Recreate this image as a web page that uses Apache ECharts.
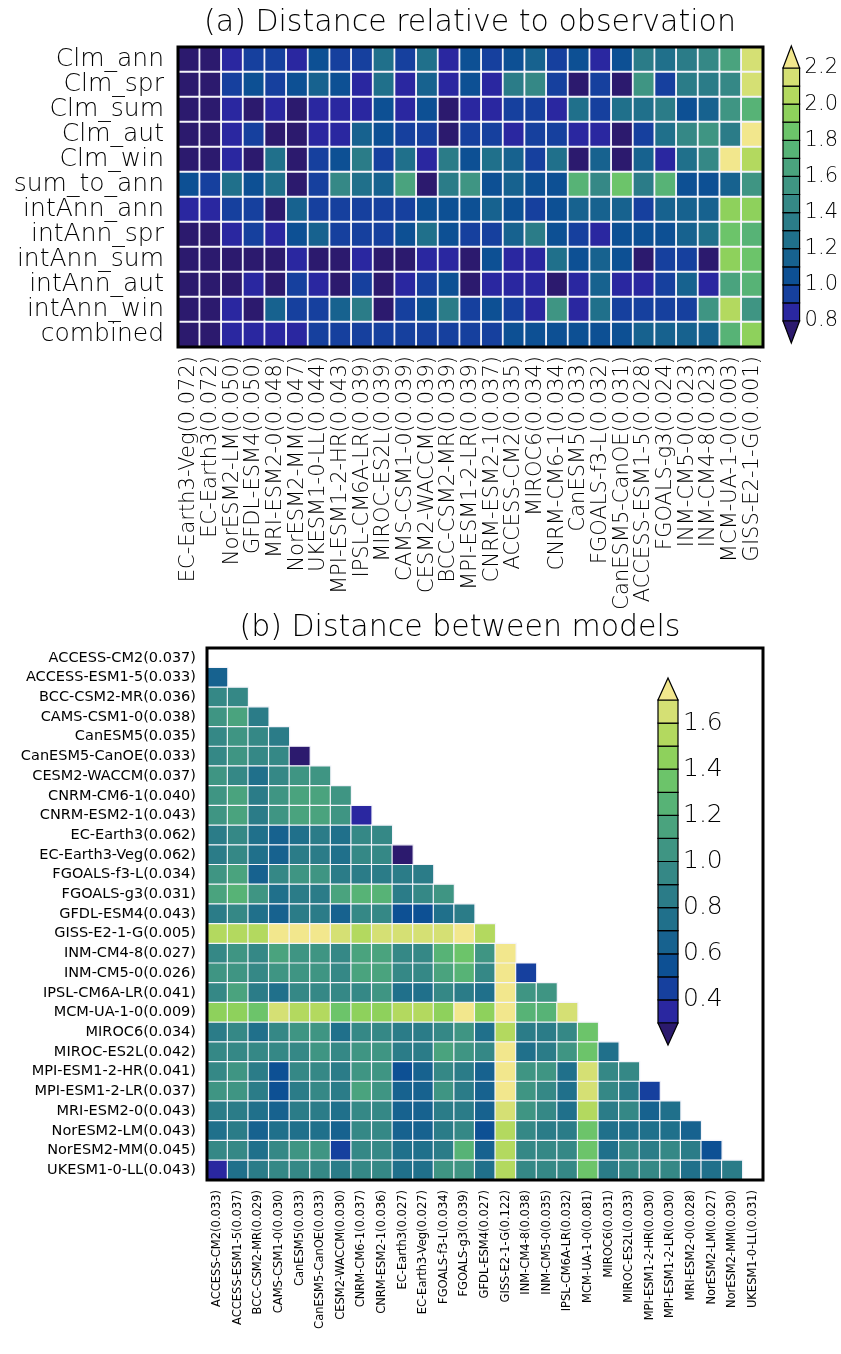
<!DOCTYPE html>
<html><head><meta charset="utf-8">
<script src="https://cdn.jsdelivr.net/npm/echarts@6/dist/echarts.min.js"></script>
<style>html,body{margin:0;padding:0;background:#fff}#c{width:841px;height:1354px}</style>
</head><body><div id="c"></div>
<script>
const FONT = 'DejaVu Sans';
const WEIGHT = 200;
const palette = ['#2c1a6e','#2a27a0','#16409e','#0d5094','#17628f','#20708b','#2b7c88','#358886','#3f9583','#4aa37e','#57b376','#6cc46a','#8ed15c','#b3d95f','#d5e074','#f2e78d'];
const levelsA = [0.8,0.9,1.0,1.1,1.2,1.3,1.4,1.5,1.6,1.7,1.8,1.9,2.0,2.1,2.2];
const levelsB = [0.3,0.4,0.5,0.6,0.7,0.8,0.9,1.0,1.1,1.2,1.3,1.4,1.5,1.6,1.7];

const metricsA = ['Clm_ann','Clm_spr','Clm_sum','Clm_aut','Clm_win','sum_to_ann','intAnn_ann','intAnn_spr','intAnn_sum','intAnn_aut','intAnn_win','combined'];
const modelsA = ['EC-Earth3-Veg(0.072)','EC-Earth3(0.072)','NorESM2-LM(0.050)','GFDL-ESM4(0.050)','MRI-ESM2-0(0.048)','NorESM2-MM(0.047)','UKESM1-0-LL(0.044)','MPI-ESM1-2-HR(0.043)','IPSL-CM6A-LR(0.039)','MIROC-ES2L(0.039)','CAMS-CSM1-0(0.039)','CESM2-WACCM(0.039)','BCC-CSM2-MR(0.039)','MPI-ESM1-2-LR(0.039)','CNRM-ESM2-1(0.037)','ACCESS-CM2(0.035)','MIROC6(0.034)','CNRM-CM6-1(0.034)','CanESM5(0.033)','FGOALS-f3-L(0.032)','CanESM5-CanOE(0.031)','ACCESS-ESM1-5(0.028)','FGOALS-g3(0.024)','INM-CM5-0(0.023)','INM-CM4-8(0.023)','MCM-UA-1-0(0.003)','GISS-E2-1-G(0.001)'];

const clmAnn    = [0.75,0.75,0.85,0.95,0.95,0.85,1.05,0.95,0.95,1.25,0.95,1.25,0.85,1.05,0.95,1.05,1.15,0.95,1.05,0.85,1.05,1.35,1.25,1.35,1.45,1.65,2.15];
const clmSpr    = [0.75,0.75,0.95,1.05,0.95,1.05,1.15,1.05,0.85,1.25,0.85,1.15,0.85,1.05,0.85,1.35,1.45,0.95,0.75,0.95,0.75,1.55,0.95,1.35,1.35,1.45,2.15];
const clmSum    = [0.75,0.75,0.85,0.75,0.85,0.75,0.85,0.85,0.85,1.05,0.85,1.05,0.75,0.85,0.85,0.95,0.95,0.85,1.25,0.95,1.25,1.25,1.35,1.05,1.15,1.55,1.75];
const clmAut    = [0.75,0.75,0.85,0.95,0.75,0.75,0.85,0.85,1.15,1.05,0.95,0.95,0.75,0.95,0.95,0.85,0.95,0.95,0.85,0.85,0.75,0.95,1.25,1.45,1.55,1.35,2.25];
const clmWin    = [0.75,0.75,0.85,0.75,1.25,0.75,0.95,1.05,1.35,0.95,1.25,0.85,1.35,1.05,1.25,1.15,0.95,1.25,0.75,1.15,0.75,1.15,0.85,1.25,1.45,2.25,2.05];
const sumToAnn  = [1.05,0.95,1.25,1.05,1.25,0.75,0.95,1.45,1.25,1.15,1.65,0.75,1.35,1.55,1.05,1.15,1.05,1.05,1.75,1.45,1.85,1.35,1.75,1.05,1.05,1.15,1.55];
const intAnnAnn = [0.85,0.85,0.95,0.95,0.75,1.15,0.95,0.95,0.95,0.95,0.95,1.05,1.05,1.05,1.15,1.05,0.95,1.05,1.15,1.15,1.15,0.95,1.15,1.15,1.15,1.95,1.95];
const intAnnSpr = [0.75,0.75,0.85,0.95,0.85,1.05,1.15,0.95,0.95,0.95,1.05,1.25,1.05,0.95,0.95,1.15,1.35,1.05,0.95,0.85,1.05,1.05,1.05,1.15,1.25,1.85,1.75];
const intAnnSum = [0.75,0.75,0.75,0.75,0.75,0.85,0.75,0.75,0.85,0.75,0.75,0.85,0.85,0.75,1.05,0.85,0.85,1.25,1.05,1.15,1.05,0.75,0.95,0.95,0.75,1.95,1.85];
const intAnnAut = [0.75,0.75,0.75,0.85,0.75,0.95,0.85,0.75,0.95,0.75,0.85,0.95,1.05,0.75,0.85,0.85,0.85,0.75,0.85,1.15,0.85,0.85,0.95,1.15,0.85,1.65,1.75];
const intAnnWin = [0.75,0.75,0.85,0.75,1.15,0.95,0.95,1.15,1.35,0.75,0.95,1.05,1.35,0.95,1.05,0.95,0.85,1.55,0.85,1.25,0.95,0.95,0.95,0.95,1.55,2.05,1.55];
const combined  = [0.75,0.75,0.85,0.85,0.85,0.85,0.95,0.95,0.95,0.95,0.95,0.95,0.95,0.95,0.95,1.05,1.05,1.05,1.05,1.05,1.05,1.15,1.15,1.15,1.15,1.75,1.95];

const modelsBy = ['ACCESS-CM2(0.037)','ACCESS-ESM1-5(0.033)','BCC-CSM2-MR(0.036)','CAMS-CSM1-0(0.038)','CanESM5(0.035)','CanESM5-CanOE(0.033)','CESM2-WACCM(0.037)','CNRM-CM6-1(0.040)','CNRM-ESM2-1(0.043)','EC-Earth3(0.062)','EC-Earth3-Veg(0.062)','FGOALS-f3-L(0.034)','FGOALS-g3(0.031)','GFDL-ESM4(0.043)','GISS-E2-1-G(0.005)','INM-CM4-8(0.027)','INM-CM5-0(0.026)','IPSL-CM6A-LR(0.041)','MCM-UA-1-0(0.009)','MIROC6(0.034)','MIROC-ES2L(0.042)','MPI-ESM1-2-HR(0.041)','MPI-ESM1-2-LR(0.037)','MRI-ESM2-0(0.043)','NorESM2-LM(0.043)','NorESM2-MM(0.045)','UKESM1-0-LL(0.043)'];
const modelsBx = ['ACCESS-CM2(0.033)','ACCESS-ESM1-5(0.037)','BCC-CSM2-MR(0.029)','CAMS-CSM1-0(0.030)','CanESM5(0.033)','CanESM5-CanOE(0.033)','CESM2-WACCM(0.030)','CNRM-CM6-1(0.037)','CNRM-ESM2-1(0.036)','EC-Earth3(0.027)','EC-Earth3-Veg(0.027)','FGOALS-f3-L(0.034)','FGOALS-g3(0.039)','GFDL-ESM4(0.027)','GISS-E2-1-G(0.122)','INM-CM4-8(0.038)','INM-CM5-0(0.035)','IPSL-CM6A-LR(0.032)','MCM-UA-1-0(0.081)','MIROC6(0.031)','MIROC-ES2L(0.033)','MPI-ESM1-2-HR(0.030)','MPI-ESM1-2-LR(0.030)','MRI-ESM2-0(0.028)','NorESM2-LM(0.027)','NorESM2-MM(0.030)','UKESM1-0-LL(0.031)'];

// lower triangle: row r holds distances to models 0..r-1
const betweenModels = [
  [],
  [0.65],
  [0.95,0.95],
  [1.05,1.15,0.85],
  [0.95,1.05,0.95,0.85],
  [0.95,1.05,0.95,0.95,0.25],
  [1.05,0.95,0.75,0.95,1.05,1.05],
  [1.05,1.15,0.85,1.05,1.15,1.15,1.05],
  [1.05,1.15,0.85,1.05,1.15,1.15,1.05,0.35],
  [0.85,0.95,0.75,0.65,0.75,0.85,0.75,0.95,0.95],
  [0.85,0.95,0.75,0.65,0.85,0.85,0.75,0.95,0.95,0.25],
  [1.05,1.15,0.65,0.95,1.05,1.05,0.85,0.85,0.85,0.85,0.85],
  [1.15,1.25,1.05,0.75,0.85,0.85,1.15,1.25,1.25,0.85,0.95,1.05],
  [0.85,0.95,0.75,0.65,0.85,0.85,0.65,0.95,0.95,0.55,0.55,0.75,0.85],
  [1.55,1.55,1.55,1.75,1.75,1.75,1.65,1.55,1.65,1.65,1.65,1.65,1.75,1.55],
  [0.95,1.05,0.95,1.15,1.05,1.05,0.95,1.15,1.15,0.95,0.95,1.25,1.35,1.05,1.75],
  [1.05,1.05,0.95,1.05,1.05,1.05,0.95,1.15,1.15,0.95,0.95,1.15,1.25,0.95,1.75,0.45],
  [0.95,1.15,0.85,0.75,0.95,0.95,0.95,0.95,1.05,0.75,0.75,0.95,0.85,0.75,1.75,1.05,1.05],
  [1.45,1.45,1.35,1.65,1.55,1.55,1.35,1.45,1.45,1.55,1.55,1.45,1.75,1.45,1.75,1.25,1.25,1.65],
  [0.85,0.95,0.75,0.95,1.05,1.05,0.75,0.95,0.95,0.85,0.85,0.95,1.05,0.75,1.55,0.85,0.85,0.95,1.35],
  [0.95,0.95,0.95,0.95,0.95,1.05,0.95,1.05,1.05,0.85,0.85,1.15,1.05,0.95,1.75,0.75,0.85,1.05,1.35,0.75],
  [0.95,1.05,0.85,0.55,0.95,0.95,0.85,1.05,1.05,0.55,0.65,0.95,0.85,0.65,1.75,1.05,1.05,0.75,1.65,0.95,0.95],
  [1.05,1.05,0.85,0.55,0.85,0.95,0.85,1.15,1.05,0.65,0.65,1.05,0.85,0.65,1.75,1.05,0.95,0.75,1.65,0.95,0.85,0.45],
  [0.85,0.85,0.75,0.65,0.85,0.85,0.75,0.95,0.95,0.65,0.65,0.85,0.85,0.65,1.65,1.05,0.95,0.75,1.55,0.85,0.95,0.65,0.75],
  [0.75,0.85,0.65,0.75,0.75,0.75,0.65,0.95,0.95,0.65,0.65,0.85,0.95,0.55,1.55,0.95,0.85,0.85,1.35,0.75,0.75,0.75,0.75,0.65],
  [0.95,0.95,0.75,0.95,1.05,1.05,0.45,0.95,0.95,0.75,0.75,0.85,1.25,0.65,1.55,0.95,0.95,0.95,1.35,0.75,0.95,0.85,0.95,0.85,0.55],
  [0.35,0.75,0.85,0.95,0.95,0.95,0.85,0.95,0.95,0.75,0.75,1.05,1.05,0.75,1.55,0.95,0.95,0.95,1.35,0.85,0.95,0.95,0.95,0.75,0.75,0.85]
];

const rowsA = [clmAnn, clmSpr, clmSum, clmAut, clmWin, sumToAnn, intAnnAnn, intAnnSpr, intAnnSum, intAnnAut, intAnnWin, combined];
const heatA = [];
rowsA.forEach((row, r) => row.forEach((v, c) => heatA.push([c, r, v])));
const heatB = [];
betweenModels.forEach((row, r) => row.forEach((v, c) => heatB.push([c, r, v])));

function pieces(levels) {
  const p = [{lt: levels[0], color: palette[0]}];
  for (let i = 0; i < levels.length - 1; i++) p.push({gte: levels[i], lt: levels[i + 1], color: palette[i + 1]});
  p.push({gte: levels[levels.length - 1], color: palette[levels.length]});
  return p;
}
function barData(levels) {
  const d = [];
  for (let i = 0; i < levels.length - 1; i++) d.push([0, levels[i], levels[i + 1], i + 1, 0]);
  d.push([0, levels[levels.length - 1], levels[levels.length - 1], levels.length, 1]);
  d.push([0, levels[0], levels[0], 0, 2]);
  return d;
}
function colorbarItem(params, api) {
  const lo = api.value(1), hi = api.value(2), k = api.value(3), kind = api.value(4);
  const cs = params.coordSys;
  const x0 = cs.x, w = cs.width;
  const yLo = api.coord([0, lo])[1], yHi = api.coord([0, hi])[1];
  const style = {fill: palette[k], stroke: '#000', lineWidth: 1.2};
  const th = 22;
  if (kind === 0) return {type: 'rect', shape: {x: x0, y: yHi, width: w, height: yLo - yHi}, style};
  if (kind === 1) return {type: 'polygon', shape: {points: [[x0, yHi], [x0 + w, yHi], [x0 + w / 2, yHi - th]]}, style};
  return {type: 'polygon', shape: {points: [[x0, yLo], [x0 + w, yLo], [x0 + w / 2, yLo + th]]}, style};
}

const txt = (size, extra) => Object.assign({color: '#000', fontFamily: FONT, fontWeight: WEIGHT, fontSize: size}, extra || {});

const chart = echarts.init(document.getElementById('c'), null, {renderer: 'canvas'});
chart.setOption({
  animation: false,
  backgroundColor: '#fff',
  graphic: [
    {type: 'text', x: 470, y: 23, style: {text: '(a) Distance relative to observation', fontSize: 30, fontFamily: FONT, fontWeight: WEIGHT, fill: '#000', align: 'center', verticalAlign: 'middle'}},
    {type: 'text', x: 460, y: 628, style: {text: '(b) Distance between models', fontSize: 30, fontFamily: FONT, fontWeight: WEIGHT, fill: '#000', align: 'center', verticalAlign: 'middle'}}
  ],
  grid: [
    {left: 178, top: 47, width: 585, height: 300, show: true, borderColor: '#000', borderWidth: 3, backgroundColor: 'transparent', z: 10},
    {left: 207, top: 648, width: 556, height: 532, show: true, borderColor: '#000', borderWidth: 3, backgroundColor: 'transparent', z: 10},
    {left: 783, top: 68, width: 18, height: 253, show: false},
    {left: 658, top: 700, width: 20, height: 323, show: false}
  ],
  xAxis: [
    {type: 'category', gridIndex: 0, data: modelsA, axisLine: {show: false}, axisTick: {show: false}, splitLine: {show: false},
     axisLabel: txt(21, {rotate: 90, interval: 0, margin: 9})},
    {type: 'category', gridIndex: 1, data: modelsBx, axisLine: {show: false}, axisTick: {show: false}, splitLine: {show: false},
     axisLabel: txt(11.5, {rotate: 90, interval: 0, margin: 10, fontWeight: 'normal'})},
    {type: 'category', gridIndex: 2, data: ['bar'], show: false},
    {type: 'category', gridIndex: 3, data: ['bar'], show: false}
  ],
  yAxis: [
    {type: 'category', gridIndex: 0, data: metricsA, inverse: true, axisLine: {show: false}, axisTick: {show: false}, splitLine: {show: false},
     axisLabel: txt(25, {interval: 0, margin: 14})},
    {type: 'category', gridIndex: 1, data: modelsBy, inverse: true, axisLine: {show: false}, axisTick: {show: false}, splitLine: {show: false},
     axisLabel: txt(14.5, {interval: 0, margin: 11, fontWeight: 'normal'})},
    {type: 'value', gridIndex: 2, position: 'right', min: 0.8, max: 2.2, interval: 0.2, axisLine: {show: false}, axisTick: {show: false}, splitLine: {show: false},
     axisLabel: txt(21, {margin: 5, formatter: v => v.toFixed(1)})},
    {type: 'value', gridIndex: 3, position: 'right', min: 0.3, max: 1.7, interval: 0.1, axisLine: {show: false}, axisTick: {show: false}, splitLine: {show: false},
     axisLabel: txt(25, {margin: 5, formatter: v => { const t = Math.round(v * 10); return (t % 2 === 0 && t >= 4 && t <= 16) ? v.toFixed(1) : ''; }})}
  ],
  visualMap: [
    {type: 'piecewise', show: false, dimension: 2, seriesIndex: 0, pieces: pieces(levelsA)},
    {type: 'piecewise', show: false, dimension: 2, seriesIndex: 1, pieces: pieces(levelsB)}
  ],
  series: [
    {type: 'heatmap', xAxisIndex: 0, yAxisIndex: 0, data: heatA, itemStyle: {borderColor: '#f4f4fa', borderWidth: 1.8}},
    {type: 'heatmap', xAxisIndex: 1, yAxisIndex: 1, data: heatB, itemStyle: {borderColor: '#f4f4fa', borderWidth: 1.2}},
    {type: 'custom', xAxisIndex: 2, yAxisIndex: 2, data: barData(levelsA), renderItem: colorbarItem, clip: false, encode: {x: 0, y: [1, 2]}, z: 5},
    {type: 'custom', xAxisIndex: 3, yAxisIndex: 3, data: barData(levelsB), renderItem: colorbarItem, clip: false, encode: {x: 0, y: [1, 2]}, z: 5}
  ]
});
</script></body></html>
